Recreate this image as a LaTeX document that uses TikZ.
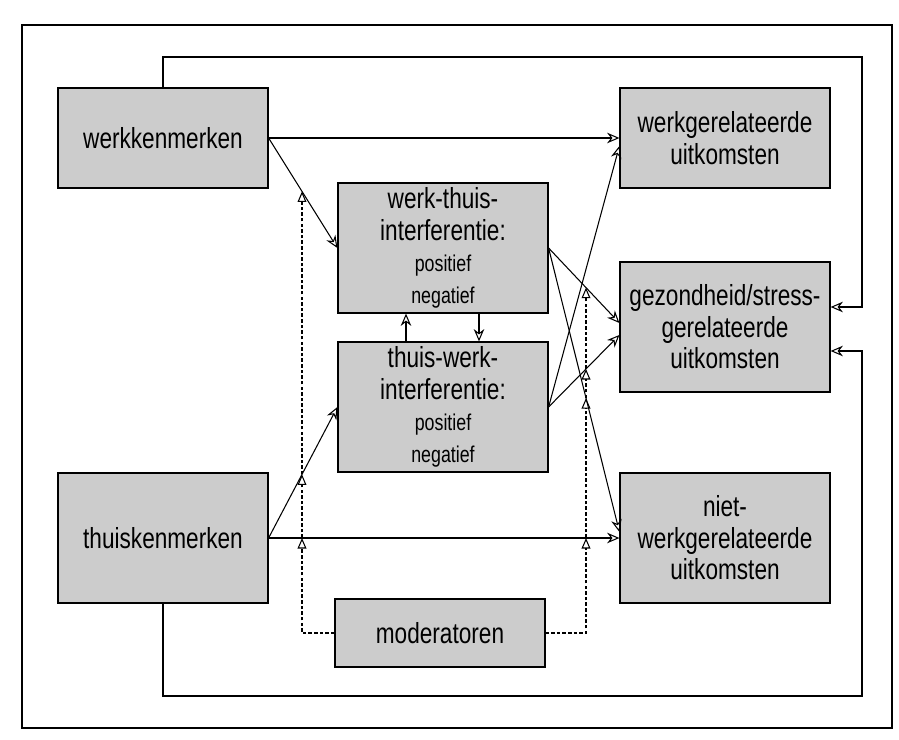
\documentclass[tikz,border=0pt]{standalone}
\usepackage{fontspec}
\setmainfont{Liberation Sans}[FakeStretch=0.78]
\usetikzlibrary{arrows.meta,calc,intersections}

\newcommand{\groot}{\fontsize{16.5}{18}\selectfont}
\newcommand{\klein}{\fontsize{13}{14}\selectfont}

\begin{document}
\begin{tikzpicture}[x=0.02cm, y=-0.02cm,
  blok/.style={draw, line width=0.7pt, fill=black!20, align=center,
    minimum width=4.2cm, minimum height=2.6cm, inner sep=2pt, font=\groot},
  pijl/.style={-{Stealth[open,length=7pt,width=6pt]}, line width=0.6pt},
  stippel/.style={dash pattern=on 2pt off 1.2pt, line width=0.6pt,
    -{Triangle[open,length=6pt,width=5pt]}}]
\useasboundingbox (0,0) rectangle (899,740);
\draw[line width=0.6pt] (22,25) rectangle (892,728);

% blokken
\node[blok, minimum height=2cm] (werk) at (163,138) {werkkenmerken};
\node[blok, minimum height=2cm] (wg) at (725,138) {werkgerelateerde\\uitkomsten};
\node[blok] (wt) at (443,248) {werk-thuis-\\interferentie:\\{\klein positief}\\{\klein negatief}};
\node[blok] (tw) at (443,407) {thuis-werk-\\interferentie:\\{\klein positief}\\{\klein negatief}};
\node[blok] (gez) at (725,327) {gezondheid/stress-\\gerelateerde\\uitkomsten};
\node[blok] (thuis) at (163,538) {thuiskenmerken};
\node[blok] (niet) at (725,538) {niet-\\werkgerelateerde\\uitkomsten};
\node[blok, minimum height=1.36cm] (mod) at (440,633) {moderatoren};

% pijlen
\draw[pijl] (werk.east) -- (wg.west);
\draw[pijl, name path=wkwt] (werk.east) -- (wt.west);
\draw[pijl, name path=thtw] (thuis.east) -- (tw.west);
\draw[pijl, name path=thni] (thuis.east) -- (niet.west);
\draw[pijl] ($(tw.north)+(-37,0)$) -- ($(wt.south)+(-37,0)$);
\draw[pijl] ($(wt.south)+(36,0)$) -- ($(tw.north)+(36,0)$);
\draw[pijl, name path=wtgz] (wt.east) -- ($(gez.west)+(0,-4)$);
\draw[pijl, name path=wtni] (wt.east) -- ($(niet.west)+(0,-6)$);
\draw[pijl] (tw.east) -- ($(wg.west)+(0,8)$);
\draw[pijl, name path=twgz] (tw.east) -- ($(gez.west)+(0,8)$);

% terugkoppeling
\coordinate (bovenR) at (862,57);
\coordinate (onderR) at (862,696);
\draw[pijl] (werk.north) |- (bovenR) |- ($(gez.east)+(0,-20)$);
\draw[pijl] (thuis.south) |- (onderR) |- ($(gez.east)+(0,24)$);

% moderatoren
\path[name path=links] (302,100) -- (302,700);
\path[name path=rechts] (586,100) -- (586,700);
\path[name intersections={of=links and thni, by=l1}];
\path[name intersections={of=links and thtw, by=l2}];
\path[name intersections={of=links and wkwt, by=l3}];
\path[name intersections={of=rechts and thni, by=r1}];
\path[name intersections={of=rechts and wtni, by=r2}];
\path[name intersections={of=rechts and twgz, by=r3}];
\path[name intersections={of=rechts and wtgz, by=r4}];
\draw[stippel] (mod.west) -| (l1);
\draw[stippel] (l1) -- (l2);
\draw[stippel] (l2) -- (l3);
\draw[stippel] (mod.east) -| (r1);
\draw[stippel] (r1) -- (r2);
\draw[stippel] (r2) -- (r3);
\draw[stippel] (r3) -- (r4);
\end{tikzpicture}
\end{document}
